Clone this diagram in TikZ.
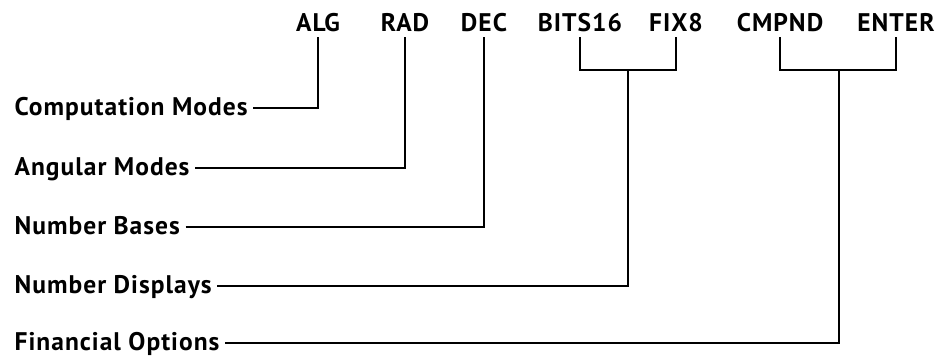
\documentclass[tikz,border=0pt]{standalone}
\usepackage{fontspec}
\setmainfont{PT Sans}
\newfontfamily\lblfont[LetterSpace=4]{PT Sans}
\usepackage{tikz}

\tikzset{
    keylbl/.style={font=\lblfont\fontsize{14.5}{16}\selectfont\bfseries, inner sep=3pt, text height=10pt, text depth=0pt},
    modelbl/.style={font=\lblfont\fontsize{14.5}{16}\selectfont\bfseries, inner sep=3pt, anchor=west, text height=10pt, text depth=2pt},
    wire/.style={line width=1pt}
}

\begin{document}
\begin{tikzpicture}[x=0.02cm, y=-0.02cm]
    \useasboundingbox (0,0) rectangle (945,356);

    \foreach \n/\t/\x in {alg/ALG/318, rad/RAD/405, dec/DEC/484, bits/BITS16/580, fix/FIX8/676, cmpnd/CMPND/780, enter/ENTER/896}{
        \node[keylbl] (\n) at (\x,23) {\t};
    }
    \foreach \n/\t/\y in {comp/Computation Modes/108, ang/Angular Modes/168, bases/Number Bases/227, disp/Number Displays/286, fin/Financial Options/343}{
        \node[modelbl] (\n) at (9,\y) {\t};
    }

    \coordinate (dispbar) at (628,70);
    \coordinate (finbar) at (839,70);

    \draw[wire] (comp) -| (alg);
    \draw[wire] (ang) -| (rad);
    \draw[wire] (bases) -| (dec);
    \draw[wire] (bits) |- (dispbar) -| (fix);
    \draw[wire] (cmpnd) |- (finbar) -| (enter);
    \draw[wire] (disp) -| (dispbar);
    \draw[wire] (fin) -| (finbar);
\end{tikzpicture}
\end{document}
